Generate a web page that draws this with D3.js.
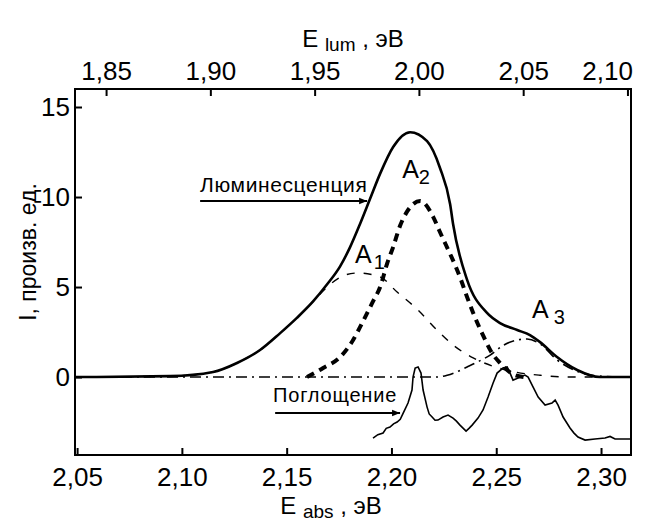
<!DOCTYPE html>
<html>
<head>
<meta charset="utf-8">
<script src="https://cdn.jsdelivr.net/npm/d3@7"></script>
<style>
  body { margin: 0; background: #fff; }
  svg text { font-family: "Liberation Sans", Arial, sans-serif; fill: #000; }
</style>
</head>
<body>
<svg id="chart" width="652" height="522"></svg>
<script>
// ticks
const absTicks = [2.05, 2.10, 2.15, 2.20, 2.25, 2.30];
const lumTicks = [1.85, 1.90, 1.95, 2.00, 2.05, 2.10];
const yTicks = [0, 5, 10, 15];

// luminescence, total (solid)
const totalE = [2.049, 2.0944, 2.1149, 2.1263, 2.1373, 2.1469, 2.155, 2.1626, 2.1693, 2.1755, 2.1802, 2.185, 2.1898, 2.1946, 2.2008, 2.2089, 2.217, 2.2232, 2.228, 2.2294, 2.2361, 2.2456, 2.2518, 2.26, 2.2661, 2.2709, 2.279, 2.2886, 2.2995, 2.3143];
const totalI = [0, 0.05, 0.28, 0.78, 1.5, 2.44, 3.3, 4.2, 5.15, 6.15, 7.2, 8.5, 9.9, 11.3, 12.78, 13.6, 13.1, 11.6, 9.6, 8.5, 5.4, 3.56, 3.0, 2.61, 2.33, 1.94, 1.11, 0.39, 0.0, 0];

// band A1 (thin dashed)
const a1E = [2.049, 2.0944, 2.1149, 2.1263, 2.1373, 2.1469, 2.155, 2.1626, 2.1693, 2.1769, 2.1836, 2.1946, 2.2027, 2.2127, 2.2218, 2.2294, 2.239, 2.2485, 2.259, 2.2709, 2.2852, 2.3143];
const a1I = [0, 0.05, 0.28, 0.78, 1.5, 2.44, 3.3, 4.2, 5.0, 5.62, 5.78, 5.56, 4.72, 3.72, 2.6, 1.78, 1.06, 0.6, 0.28, 0.1, 0, 0];

// band A2 (thick dashed)
const a2E = [2.1597, 2.1674, 2.1755, 2.1817, 2.186, 2.1912, 2.1946, 2.198, 2.2008, 2.2041, 2.2075, 2.2103, 2.2137, 2.2199, 2.2227, 2.2332, 2.2361, 2.239, 2.2432, 2.248, 2.2518, 2.2552, 2.259, 2.2637];
const a2I = [0, 0.5, 1.11, 2.06, 3.0, 4.2, 5.0, 6.33, 7.22, 8.4, 9.2, 9.6, 9.78, 8.9, 8.17, 5.39, 4.44, 3.56, 2.44, 1.33, 0.78, 0.39, 0.1, 0];

// band A3 (dash-dot)
const a3E = [2.049, 2.2218, 2.2266, 2.2304, 2.2361, 2.2409, 2.2471, 2.2537, 2.26, 2.2647, 2.2709, 2.279, 2.2886, 2.2995, 2.3143];
const a3I = [0, 0, 0.1, 0.25, 0.56, 0.83, 1.22, 1.78, 2.06, 2.11, 1.85, 0.95, 0.32, 0.05, 0];

// absorption spectrum
const absE = [2.1912, 2.1935, 2.196, 2.1975, 2.1993, 2.201, 2.2027, 2.2042, 2.2056, 2.2079, 2.2098, 2.2103, 2.2113, 2.2127, 2.2141, 2.2151, 2.217, 2.218, 2.2194, 2.2208, 2.2222, 2.2246, 2.227, 2.2294, 2.231, 2.2327, 2.2356, 2.237, 2.2385, 2.2413, 2.2437, 2.2461, 2.2485, 2.2504, 2.2532, 2.2552, 2.2566, 2.258, 2.2604, 2.2637, 2.2652, 2.2676, 2.27, 2.2733, 2.2766, 2.2781, 2.2795, 2.2819, 2.2852, 2.287, 2.289, 2.2924, 2.2971, 2.3019, 2.3043, 2.3067, 2.3143];
const absI = [-3.39, -3.2, -3.11, -2.85, -2.78, -2.6, -2.5, -2.35, -2.0, -1.44, -0.72, 0, 0.5, 0.56, 0.22, -0.72, -1.67, -2.05, -2.22, -2.4, -2.39, -2.22, -2.11, -2.28, -2.45, -2.67, -3.0, -2.85, -2.67, -2.28, -1.83, -1.11, -0.33, 0.22, 0.5, 0.56, 0.22, -0.17, -0.06, 0.11, 0, -0.56, -1.11, -1.56, -1.44, -1.28, -1.56, -2.22, -2.83, -3.1, -3.33, -3.5, -3.44, -3.39, -3.3, -3.44, -3.44];

const svg = d3.select('#chart');
const L = 75, R = 631, T = 89, B = 455;

const x = d3.scaleLinear().domain([2.049, 2.3143]).range([L, R]);
const xTop = d3.scaleLinear().domain([1.8351, 2.1017]).range([L, R]);
const y = d3.scaleLinear().domain([-4.33, 16]).range([B, T]);

const comma = d => d3.format('.2f')(d).replace('.', ',');

// marker for arrows
svg.append('defs').append('marker')
  .attr('id', 'arrow')
  .attr('viewBox', '0 0 10 10')
  .attr('refX', 10).attr('refY', 5)
  .attr('markerWidth', 10).attr('markerHeight', 8)
  .attr('markerUnits', 'userSpaceOnUse')
  .attr('orient', 'auto')
  .append('path').attr('d', 'M0,1L10,5L0,9Z').attr('fill', '#000');

// axes
const gB = svg.append('g').attr('transform', 'translate(0,' + B + ')')
  .call(d3.axisBottom(x).tickValues(absTicks).tickFormat(comma).tickSize(-7).tickSizeOuter(0).tickPadding(13));
const gT = svg.append('g').attr('transform', 'translate(0,' + T + ')')
  .call(d3.axisTop(xTop).tickValues(lumTicks).tickFormat(comma).tickSize(-7).tickSizeOuter(0).tickPadding(9));
const gL = svg.append('g').attr('transform', 'translate(' + L + ',0)')
  .call(d3.axisLeft(y).tickValues(yTicks).tickSize(-7).tickSizeOuter(0).tickPadding(5));

[gB, gT, gL].forEach(g => {
  g.select('.domain').remove();
  g.selectAll('.tick line').attr('stroke', '#000').attr('stroke-width', 2);
  g.selectAll('.tick text').style('font-size', '26px').attr('font-family', null);
});
// last top label sits inside the frame edge
gT.selectAll('.tick text').filter(d => d === 2.10).attr('text-anchor', 'end').attr('x', 5);

// frame
svg.append('rect')
  .attr('x', L).attr('y', T).attr('width', R - L).attr('height', B - T)
  .attr('fill', 'none').attr('stroke', '#000').attr('stroke-width', 2);

const line = (xs, ys, curve) => d3.line()
  .x((d, i) => x(xs[i]))
  .y(d => y(d))
  .curve(curve)(ys);

const plot = svg.append('g');

plot.append('path').attr('d', line(a3E, a3I, d3.curveMonotoneX))
  .attr('fill', 'none').attr('stroke', '#000').attr('stroke-width', 1.6)
  .attr('stroke-dasharray', '11,5,2,5');
plot.append('path').attr('d', line(a1E, a1I, d3.curveMonotoneX))
  .attr('fill', 'none').attr('stroke', '#000').attr('stroke-width', 1.4)
  .attr('stroke-dasharray', '8,9');
plot.append('path').attr('d', line(a2E, a2I, d3.curveMonotoneX))
  .attr('fill', 'none').attr('stroke', '#000').attr('stroke-width', 4)
  .attr('stroke-dasharray', '8,6');
plot.append('path').attr('d', line(totalE, totalI, d3.curveMonotoneX))
  .attr('fill', 'none').attr('stroke', '#000').attr('stroke-width', 2.6);
plot.append('path').attr('d', line(absE, absI, d3.curveLinear))
  .attr('fill', 'none').attr('stroke', '#000').attr('stroke-width', 1.6);

// annotations
svg.append('text').attr('x', x(2.1087)).attr('y', y(10.28))
  .style('font-size', '21px').style('letter-spacing', '0.6px').text('Люминесценция');
svg.append('line').attr('x1', x(2.1087)).attr('x2', x(2.1884)).attr('y1', y(9.78)).attr('y2', y(9.78))
  .attr('stroke', '#000').attr('stroke-width', 2).attr('marker-end', 'url(#arrow)');

svg.append('text').attr('x', x(2.1435)).attr('y', y(-1.39))
  .style('font-size', '20px').style('letter-spacing', '0.8px').text('Поглощение');
svg.append('line').attr('x1', x(2.1445)).attr('x2', x(2.2041)).attr('y1', y(-2.0)).attr('y2', y(-2.0))
  .attr('stroke', '#000').attr('stroke-width', 2).attr('marker-end', 'url(#arrow)');

const bandLabel = (e, v, sub, gap) => {
  const t = svg.append('text').attr('x', x(e)).attr('y', y(v)).style('font-size', '25px');
  t.append('tspan').text('A');
  t.append('tspan').attr('dx', gap).attr('dy', 6).style('font-size', '20px').text(sub);
};
bandLabel(2.1826, 6.33, '1', 2);
bandLabel(2.2051, 11.06, '2', 0);
bandLabel(2.2671, 3.28, '3', 5);

// axis titles
const title = (cx, cy, sub) => {
  const t = svg.append('text').attr('x', cx).attr('y', cy).attr('text-anchor', 'middle').style('font-size', '24px');
  t.append('tspan').text('E ');
  t.append('tspan').attr('dy', 4).style('font-size', '19px').text(sub);
  t.append('tspan').attr('dy', -4).text(' , эВ');
};
title(353, 47, 'lum');
title(331, 514, 'abs');

svg.append('text')
  .attr('transform', 'translate(36,' + 252 + ') rotate(-90)')
  .attr('text-anchor', 'middle').style('font-size', '23px')
  .text('I, произв.  ед.');
</script>
</body>
</html>
